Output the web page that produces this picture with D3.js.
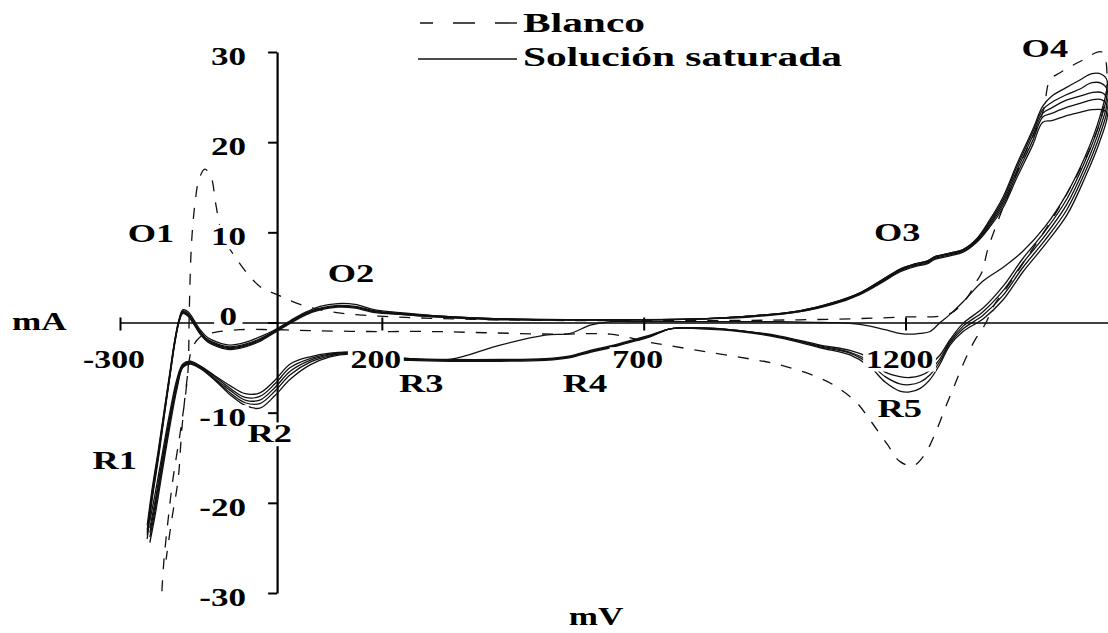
<!DOCTYPE html>
<html>
<head>
<meta charset="utf-8">
<script src="https://cdn.jsdelivr.net/npm/d3@7/dist/d3.min.js"></script>
<style>
	html, body { margin: 0; padding: 0; background: #fff; }
	svg { display: block; }
	text { font-family: "Liberation Serif", "Times New Roman", serif; font-weight: bold; fill: #000; }
</style>
</head>
<body>
<svg id="chart" width="1108" height="633"></svg>
<script>
// potential grid (mV) shared by the saturated-solution cycles: forward sweep then reverse sweep
const satPotential = [
	-248, -239, -227, -216, -205, -195, -187, -180, -170, -159,
	-147, -132, -113, -90, -61, -33, -4, 25, 53, 82,
	116, 149, 187, 235, 311, 426, 617, 808, 903, 998,
	1061, 1113, 1157, 1189, 1218, 1241, 1256, 1285, 1310, 1336,
	1361, 1386, 1413, 1443, 1462, 1479, 1505, 1533, 1556, 1575,
	1585, 1571, 1543, 1508, 1466, 1424, 1386, 1348, 1310, 1285,
	1266, 1247, 1228, 1208, 1189, 1161, 1132, 1094, 1037, 960,
	883, 808, 751, 712, 674, 636, 598, 560, 512, 426,
	330, 254, 196, 139, 101, 63, 25, -4, -33, -61,
	-90, -119, -147, -166, -180, -191, -205, -220, -233, -243,
]

// current (mA) of each cycle, same order as satPotential
const satCycle1 = [
	-22.5, -18.6, -14.2, -9.9, -5.6, -1.8, 0.4, 1.4, 1.2, 0.3,
	-0.8, -1.7, -2.2, -2.5, -2.2, -1.6, -0.8, 0.2, 1.1, 1.8,
	2.1, 2.0, 1.4, 1.1, 0.7, 0.4, 0.3, 0.4, 0.7, 1.3,
	2.2, 3.3, 4.8, 5.9, 6.5, 6.8, 7.3, 7.7, 8.1, 9.3,
	11.4, 13.9, 17.6, 21.4, 24.0, 25.1, 26.0, 26.9, 27.6, 27.5,
	26.8, 22.8, 18.4, 14.3, 10.6, 7.9, 6.1, 4.6, 2.3, 0.9,
	0.0, -1.0, -1.2, -1.3, -1.2, -0.8, -0.4, -0.1, 0.0, 0.1,
	0.1, 0.1, 0.1, 0.1, 0.1, 0.1, -0.3, -1.2, -1.4, -2.5,
	-4.1, -4.0, -3.8, -3.3, -3.4, -3.8, -4.6, -6.4, -7.8, -7.9,
	-7.0, -5.9, -4.8, -4.3, -4.6, -6.2, -10.0, -14.8, -19.0, -22.0,
]
const satCycle2 = [
	-23.0, -19.0, -14.5, -10.1, -5.8, -1.9, 0.3, 1.3, 1.0, 0.1,
	-1.0, -1.9, -2.4, -2.7, -2.4, -1.8, -0.9, 0.1, 1.0, 1.6,
	1.9, 1.8, 1.3, 1.0, 0.7, 0.4, 0.3, 0.4, 0.7, 1.3,
	2.2, 3.3, 4.8, 5.9, 6.5, 6.8, 7.3, 7.7, 8.1, 9.2,
	11.2, 13.6, 17.3, 21.1, 23.6, 24.4, 25.2, 25.9, 26.6, 26.5,
	25.8, 22.2, 17.9, 13.7, 10.1, 7.1, 4.0, 1.6, -0.1, -1.9,
	-3.6, -4.6, -5.1, -5.3, -5.2, -4.8, -3.9, -3.1, -2.5, -1.5,
	-0.9, -0.6, -0.7, -1.4, -2.0, -2.6, -3.1, -3.7, -4.0, -4.1,
	-4.1, -4.0, -3.8, -3.3, -3.5, -4.0, -5.0, -6.8, -8.2, -8.3,
	-7.3, -6.0, -4.9, -4.4, -4.7, -6.5, -10.5, -15.4, -19.8, -22.8,
]
const satCycle3 = [
	-23.3, -19.2, -14.7, -10.3, -5.9, -2.0, 0.2, 1.2, 0.9, 0.0,
	-1.1, -2.0, -2.5, -2.8, -2.5, -1.9, -1.0, 0.0, 0.9, 1.5,
	1.8, 1.7, 1.2, 1.0, 0.7, 0.4, 0.3, 0.4, 0.7, 1.3,
	2.1, 3.2, 4.7, 5.8, 6.4, 6.7, 7.2, 7.6, 8.0, 9.1,
	11.0, 13.3, 16.9, 20.7, 23.2, 23.8, 24.6, 25.1, 25.5, 25.5,
	24.8, 21.5, 17.3, 13.1, 9.6, 6.6, 3.5, 1.2, -0.4, -2.1,
	-4.0, -5.3, -5.9, -6.1, -6.0, -5.5, -4.3, -3.3, -2.6, -1.6,
	-0.9, -0.6, -0.7, -1.5, -2.1, -2.7, -3.2, -3.8, -4.1, -4.2,
	-4.2, -4.1, -3.9, -3.4, -3.6, -4.2, -5.4, -7.2, -8.6, -8.6,
	-7.5, -6.2, -5.0, -4.5, -4.8, -6.8, -10.8, -15.8, -20.3, -23.3,
]
const satCycle4 = [
	-23.6, -19.5, -14.9, -10.4, -6.0, -2.1, 0.2, 1.1, 0.8, -0.1,
	-1.2, -2.1, -2.6, -2.9, -2.6, -2.0, -1.0, 0.0, 0.9, 1.5,
	1.8, 1.7, 1.2, 0.9, 0.6, 0.4, 0.3, 0.4, 0.7, 1.2,
	2.1, 3.2, 4.6, 5.7, 6.3, 6.6, 7.1, 7.5, 7.9, 9.0,
	10.8, 13.0, 16.5, 20.2, 22.8, 23.2, 23.8, 24.3, 24.7, 24.7,
	24.0, 20.8, 16.7, 12.5, 9.1, 6.1, 3.0, 0.8, -0.7, -2.3,
	-4.3, -5.8, -6.6, -6.9, -6.8, -6.0, -4.6, -3.4, -2.7, -1.6,
	-0.9, -0.6, -0.7, -1.5, -2.1, -2.7, -3.2, -3.8, -4.1, -4.2,
	-4.2, -4.1, -3.9, -3.4, -3.7, -4.4, -5.8, -7.6, -9.0, -8.9,
	-7.8, -6.3, -5.0, -4.5, -4.9, -7.0, -11.2, -16.3, -20.8, -23.8,
]
const satCycle5 = [
	-24.0, -19.8, -15.2, -10.6, -6.1, -2.2, 0.1, 1.0, 0.7, -0.2,
	-1.3, -2.2, -2.7, -3.0, -2.7, -2.1, -1.1, -0.1, 0.8, 1.4,
	1.7, 1.6, 1.1, 0.9, 0.6, 0.3, 0.3, 0.4, 0.6, 1.2,
	2.0, 3.1, 4.5, 5.6, 6.2, 6.5, 7.0, 7.4, 7.8, 8.9,
	10.6, 12.7, 16.1, 19.7, 22.2, 22.4, 22.9, 23.3, 23.6, 23.6,
	23.2, 20.1, 16.1, 11.9, 8.6, 5.6, 2.5, 0.4, -1.0, -2.5,
	-4.6, -6.3, -7.3, -7.7, -7.6, -6.6, -4.9, -3.6, -2.8, -1.7,
	-1.0, -0.7, -0.7, -1.6, -2.2, -2.8, -3.3, -3.9, -4.2, -4.3,
	-4.3, -4.2, -4.0, -3.5, -3.8, -4.7, -6.3, -8.1, -9.5, -9.2,
	-8.0, -6.4, -5.1, -4.6, -5.0, -7.3, -11.6, -16.8, -21.4, -24.4,
]

// blank electrolyte, one cycle
const blancoPotential = [
	-220, -216, -208, -199, -185, -176, -170, -168, -166, -163,
	-157, -149, -138, -126, -117, -105, -77, -33, 0, 44,
	101, 196, 426, 712, 998, 1189, 1285, 1318, 1335, 1346,
	1357, 1380, 1419, 1462, 1476, 1495, 1535, 1575,
	1585, 1575, 1550, 1515, 1475, 1435, 1395, 1370, 1352, 1333,
	1314, 1294, 1275, 1256, 1237, 1214, 1189, 1165, 1132, 1107,
	1075, 1042, 960, 878, 794, 712, 636, 534, 374, 292,
	177, 63, -4, -71, -119, -147, -163, -172, -182, -189,
	-201, -212,
]
const blancoCurrent = [
	-29.8, -26.3, -21.8, -17.4, -12.2, -8.5, -5.2, 0.3, 5.1, 9.2,
	13.1, 15.9, 17.0, 16.1, 13.1, 9.8, 7.0, 4.0, 3.1, 2.0,
	1.2, 0.7, 0.3, 0.2, 0.3, 0.6, 1.0, 2.8, 4.5, 5.6,
	8.1, 11.8, 17.5, 23.3, 26.9, 27.7, 29.0, 30.0,
	27.0, 23.0, 19.0, 15.0, 11.0, 7.5, 4.0, 2.0, -0.2, -1.9,
	-4.1, -6.9, -9.6, -12.4, -14.6, -15.9, -15.4, -13.5, -10.8, -8.9,
	-7.4, -6.3, -4.7, -3.8, -3.0, -2.2, -1.3, -1.3, -1.1, -1.0,
	-1.0, -0.9, -0.8, -0.8, -1.1, -1.6, -3.0, -6.3, -11.9, -17.4,
	-21.8, -26.3,
]

const xTicks = [-300, 200, 700, 1200]
const yTicks = [-30, -20, -10, 0, 10, 20, 30]

// peak names and the (mV, mA) point where each name is written
const peakNames = ["O1", "O2", "O3", "O4", "R1", "R2", "R3", "R4", "R5"]
const peakAt = [[-241, 8.9], [141, 4.5], [1184, 9.0], [1466, 29.5], [-310, -16.3], [-14, -13.3], [275, -7.7], [588, -7.7], [1189, -10.5]]

const seriesNames = ["Blanco", "Solución saturada"]

const width = 1108, height = 633
const svg = d3.select("#chart")
svg.append("rect").attr("width", width).attr("height", height).attr("fill", "#fff")

const x = d3.scaleLinear().domain([-300, 1600]).range([120, 1115])
const y = d3.scaleLinear().domain([-30, 30]).range([593, 52])

// text in the picture is a wide bold serif, so it is stretched sideways
function label(parent, str, px, py, size, sx, anchor, pad) {
	const g = parent.append("g").attr("transform", "translate(" + px + "," + py + ") scale(" + sx + ",1)")
	const t = g.append("text").attr("font-size", size).attr("text-anchor", anchor).text(str)
	if (pad != null) {
		const b = t.node().getBBox()
		g.insert("rect", "text")
			.attr("x", b.x - pad).attr("y", b.y + 3)
			.attr("width", b.width + 2 * pad).attr("height", b.height - 5)
			.attr("fill", "#fff")
	}
	return g
}

// axes
const xAxis = svg.append("g")
	.attr("transform", "translate(0," + y(0) + ")")
	.call(d3.axisBottom(x).tickValues(xTicks).tickSize(8).tickSizeOuter(0).tickFormat(""))
xAxis.select(".domain").attr("stroke", "#000").attr("stroke-width", 1.6)
xAxis.selectAll(".tick line").attr("y1", -5).attr("stroke-width", 2)

const yAxis = svg.append("g")
	.attr("transform", "translate(" + x(0) + ",0)")
	.call(d3.axisLeft(y).tickValues(yTicks).tickSize(9).tickSizeOuter(0).tickFormat(""))
yAxis.select(".domain").attr("stroke", "#000").attr("stroke-width", 2.2)
yAxis.selectAll(".tick line").attr("stroke-width", 2)

// curves
const line = d3.line()
	.x(d => x(d[0]))
	.y(d => y(d[1]))
	.curve(d3.curveCatmullRom.alpha(0.5))

const plot = svg.append("g")
const satCycles = [satCycle1, satCycle2, satCycle3, satCycle4, satCycle5]
satCycles.forEach(c => {
	plot.append("path")
		.datum(satPotential.map((v, i) => [v, c[i]]))
		.attr("fill", "none")
		.attr("stroke", "#111")
		.attr("stroke-width", 1.3)
		.attr("d", line)
})
plot.append("path")
	.datum(blancoPotential.map((v, i) => [v, blancoCurrent[i]]))
	.attr("fill", "none")
	.attr("stroke", "#111")
	.attr("stroke-width", 1.3)
	.attr("stroke-dasharray", "11,11")
	.attr("d", line)

// tick labels
const labels = svg.append("g")
yTicks.forEach(v => {
	if (v === 0)
		label(labels, "0", x(0) - 40, y(0) + 2, 26, 1.35, "end", 4)
	else
		label(labels, String(v), x(0) - 31, y(v) + 13, 26, 1.35, "end", 2)
})
xTicks.forEach(v => label(labels, String(v), x(v) - 6, y(0) + 45, 26, 1.3, "middle", 2))

// peak names
peakNames.forEach((n, i) => label(labels, n, x(peakAt[i][0]), y(peakAt[i][1]), 26, 1.4, "middle", 2))

// axis titles
label(labels, "mA", 12, 330, 26, 1.35, "start")
label(labels, "mV", 596, 625, 26, 1.35, "middle")

// legend
const legend = svg.append("g")
legend.append("line")
	.attr("x1", 517).attr("x2", 420).attr("y1", 23).attr("y2", 23)
	.attr("stroke", "#111").attr("stroke-width", 1.4)
	.attr("stroke-dasharray", "22,20")
legend.append("line")
	.attr("x1", 418).attr("x2", 517).attr("y1", 59).attr("y2", 59)
	.attr("stroke", "#111").attr("stroke-width", 1.6)
label(legend, seriesNames[0], 523, 32, 28, 1.48, "start")
label(legend, seriesNames[1], 523, 66, 28, 1.48, "start")
</script>
</body>
</html>
